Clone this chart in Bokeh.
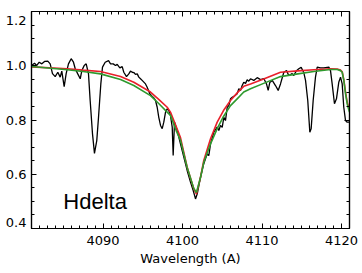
from bokeh.plotting import figure
from bokeh.models import LinearAxis, FixedTicker, Range1d, CustomJSTickFormatter, Label
from bokeh.embed import file_html
from bokeh.resources import INLINE

# Observed spectrum (wavelength in A, normalised flux)
obs_wl = [4081.0, 4081.38, 4081.67, 4081.97, 4082.30, 4082.64, 4083.05, 4083.35, 4083.64, 4083.98,
          4084.31, 4084.61, 4084.81, 4085.11, 4085.36, 4085.65, 4085.99, 4086.28, 4086.50, 4086.82,
          4087.13, 4087.33, 4087.63, 4087.88, 4088.17, 4088.38, 4088.67, 4088.92, 4089.21, 4089.43,
          4089.72, 4089.93, 4090.27, 4090.69, 4090.94, 4091.28, 4091.57, 4091.78, 4092.11, 4092.41,
          4092.61, 4092.95, 4093.24, 4093.45, 4093.67, 4093.87, 4094.08, 4094.30, 4094.50, 4094.71,
          4094.92, 4095.34, 4095.55, 4095.88, 4096.18, 4096.38, 4096.60, 4096.81, 4097.01, 4097.23,
          4097.44, 4097.64, 4097.86, 4098.07, 4098.27, 4098.48, 4098.70, 4098.82, 4098.99, 4099.33,
          4099.74, 4100.16, 4100.58, 4101.00, 4101.34, 4101.63, 4101.85, 4102.26, 4102.67, 4103.10,
          4103.30, 4103.52, 4103.93, 4104.36, 4104.56, 4104.77, 4104.99, 4105.19, 4105.40, 4105.62,
          4105.82, 4106.03, 4106.25, 4106.45, 4106.87, 4107.08, 4107.29, 4107.50, 4107.70, 4107.92,
          4108.13, 4108.33, 4108.55, 4108.96, 4109.39, 4109.81, 4110.22, 4110.56, 4110.77, 4110.97,
          4111.28, 4111.69, 4112.03, 4112.32, 4112.74, 4113.08, 4113.36, 4113.79, 4113.99, 4114.33,
          4114.62, 4114.92, 4115.25, 4115.47, 4115.75, 4116.01, 4116.18, 4116.43, 4116.72, 4116.94,
          4117.35, 4117.77, 4118.19, 4118.40, 4118.61, 4118.82, 4119.11, 4119.36, 4119.65, 4119.87,
          4120.08, 4120.28, 4120.50, 4120.71, 4121.0]
obs_flux = [1.001, 1.009, 1.001, 1.013, 1.007, 1.016, 1.017, 1.007, 0.971, 0.960,
            0.976, 0.958, 0.980, 0.923, 0.971, 1.007, 1.026, 1.013, 0.989, 0.970,
            0.952, 0.982, 1.001, 1.007, 0.970, 0.872, 0.750, 0.677, 0.724, 0.810,
            0.933, 0.995, 1.013, 1.019, 1.007, 1.007, 1.001, 1.005, 0.992, 0.997,
            0.976, 0.960, 0.970, 0.980, 0.976, 0.975, 0.968, 0.970, 0.958, 0.952,
            0.946, 0.933, 0.921, 0.897, 0.887, 0.882, 0.872, 0.847, 0.810, 0.780,
            0.768, 0.792, 0.829, 0.841, 0.835, 0.817, 0.774, 0.669, 0.792, 0.761,
            0.712, 0.663, 0.614, 0.571, 0.540, 0.509, 0.528, 0.589, 0.639, 0.675,
            0.669, 0.712, 0.755, 0.774, 0.761, 0.780, 0.773, 0.810, 0.798, 0.847,
            0.853, 0.878, 0.884, 0.887, 0.897, 0.915, 0.909, 0.927, 0.939, 0.935,
            0.948, 0.943, 0.952, 0.946, 0.956, 0.949, 0.953, 0.933, 0.909, 0.938,
            0.946, 0.927, 0.909, 0.933, 0.976, 0.982, 0.964, 0.971, 0.964, 0.982,
            0.989, 0.994, 0.975, 0.946, 0.872, 0.755, 0.769, 0.872, 0.958, 0.995,
            0.992, 0.992, 0.994, 0.995, 0.982, 0.933, 0.860, 0.878, 0.939, 0.958,
            0.933, 0.847, 0.798, 0.792, 0.792]

# Model 1 (red)
red_wl = [4081.0, 4085.49, 4087.5, 4089.68, 4092.2, 4093.87, 4095.97, 4097.0, 4098.07, 4098.48,
          4099.2, 4099.74, 4100.58, 4101.42, 4101.75, 4102.26, 4102.67, 4103.52, 4104.36, 4105.15,
          4106.03, 4106.9, 4107.70, 4108.55, 4110.2, 4112.32, 4114.5, 4116.51, 4118.61, 4119.45,
          4119.87, 4120.08, 4120.28, 4120.50, 4120.71, 4120.91, 4121.0]
red_flux = [0.996, 0.989, 0.984, 0.979, 0.960, 0.939, 0.903, 0.876, 0.847, 0.829,
            0.776, 0.735, 0.626, 0.546, 0.527, 0.589, 0.651, 0.731, 0.792, 0.835,
            0.872, 0.901, 0.924, 0.933, 0.951, 0.976, 0.981, 0.985, 0.989, 0.988,
            0.984, 0.978, 0.950, 0.903, 0.866, 0.845, 0.838]

# Model 2 (green)
green_wl = [4081.0, 4085.49, 4087.5, 4089.68, 4092.2, 4093.87, 4095.97, 4097.0, 4098.07, 4098.48,
            4099.2, 4099.74, 4100.58, 4101.42, 4101.75, 4102.26, 4102.67, 4103.52, 4104.36, 4105.15,
            4106.03, 4106.9, 4107.70, 4108.55, 4110.2, 4112.32, 4114.5, 4116.51, 4118.61, 4119.45,
            4119.87, 4120.08, 4120.28, 4120.50, 4120.71, 4120.91, 4121.0]
green_flux = [0.997, 0.985, 0.979, 0.970, 0.949, 0.927, 0.890, 0.861, 0.829, 0.817,
              0.761, 0.725, 0.625, 0.547, 0.533, 0.588, 0.644, 0.712, 0.768, 0.813,
              0.853, 0.879, 0.903, 0.915, 0.935, 0.960, 0.970, 0.979, 0.986, 0.986,
              0.982, 0.976, 0.946, 0.897, 0.860, 0.838, 0.829]

x_major = [4090, 4100, 4110, 4120]
x_minor = list(range(4081, 4122))
y_major = [0.4, 0.6, 0.8, 1.0, 1.2]
y_minor = [0.45, 0.5, 0.55, 0.65, 0.7, 0.75, 0.85, 0.9, 0.95, 1.05, 1.1, 1.15]
line_label = "Hdelta"
x_title = "Wavelength (A)"

FONT = "DejaVu Sans"

p = figure(width=362, height=273, x_range=Range1d(4081, 4121), y_range=Range1d(0.4, 1.2),
           output_backend="svg", toolbar_location=None,
           min_border_left=31, min_border_right=13, min_border_top=11, min_border_bottom=45)
p.xgrid.visible = False
p.ygrid.visible = False
p.outline_line_color = "black"
p.outline_line_width = 1.2
p.background_fill_color = "white"
p.border_fill_color = "white"

xt = FixedTicker(ticks=x_major, minor_ticks=x_minor)
yt = FixedTicker(ticks=y_major, minor_ticks=y_minor)


def style(ax, show_labels):
    ax.axis_line_color = "black"
    ax.axis_line_width = 1.2
    ax.major_tick_in = 5
    ax.major_tick_out = 0
    ax.minor_tick_in = 3
    ax.minor_tick_out = 0
    ax.major_tick_line_color = "black"
    ax.minor_tick_line_color = "black"
    ax.major_label_text_font = FONT
    ax.major_label_text_font_size = "13px"
    ax.major_label_text_color = "black"
    if not show_labels:
        ax.formatter = CustomJSTickFormatter(code="return ''")
        ax.major_label_standoff = 0


p.xaxis.ticker = xt
p.yaxis.ticker = yt
style(p.xaxis[0], True)
style(p.yaxis[0], True)
# the end labels sit just inside the frame, as in the reference
p.yaxis.formatter = CustomJSTickFormatter(code="""
const s = tick.toFixed(1);
if (tick > 1.15) return '\\n' + s;
if (tick < 0.45) return s + '\\n';
return s;
""")
p.yaxis.major_label_text_line_height = 0.8
p.yaxis.major_label_standoff = 5
p.xaxis.major_label_standoff = 7
p.xaxis.axis_label = x_title
p.xaxis.axis_label_text_font = FONT
p.xaxis.axis_label_text_font_size = "13px"
p.xaxis.axis_label_text_font_style = "normal"
p.xaxis.axis_label_text_color = "black"
p.xaxis.axis_label_standoff = 3

right = LinearAxis(ticker=yt)
style(right, False)
p.add_layout(right, "right")
top = LinearAxis(ticker=xt)
style(top, False)
p.add_layout(top, "above")

p.line(obs_wl, obs_flux, line_color="black", line_width=1.3)
p.line(red_wl, red_flux, line_color="#e8202a", line_width=1.6)
p.line(green_wl, green_flux, line_color="#2e9a2e", line_width=1.6)

p.add_layout(Label(x=4085.0, y=0.50, text=line_label, text_font="Liberation Sans",
                   text_font_size="22px", text_color="black", text_baseline="alphabetic"))

open("out.html", "w").write(file_html(p, INLINE))
